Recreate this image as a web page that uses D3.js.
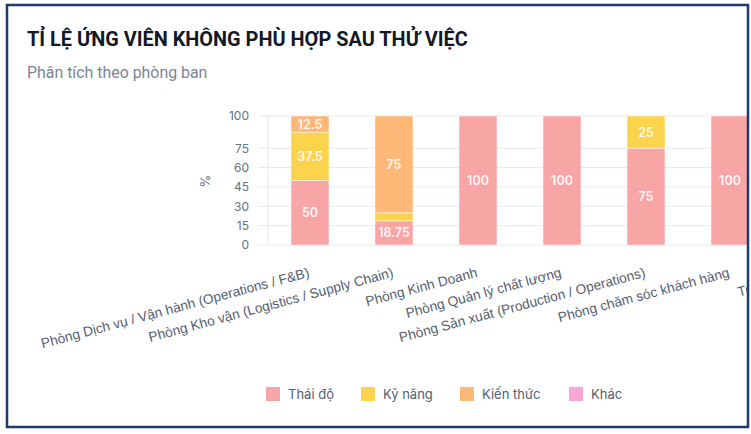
<!DOCTYPE html>
<html lang="vi">
  <head>
    <meta charset="UTF-8" />
    <title>Tỉ lệ ứng viên không phù hợp sau thử việc</title>
    <style>
      html, body { margin: 0; padding: 0; background: #fff; }
      svg { display: block; }
    </style>
  </head>
  <body>
    <svg id="chart"></svg>
    <script src="https://d3js.org/d3.v7.min.js"></script>
    <script>
      // departments (last one is cut off by the frame in the reference)
      const departments = [
        'Phòng Dịch vụ / Vận hành (Operations / F&B)',
        'Phòng Kho vận (Logistics / Supply Chain)',
        'Phòng Kinh Doanh',
        'Phòng Quản lý chất lượng',
        'Phòng Sản xuất (Production / Operations)',
        'Phòng chăm sóc khách hàng',
        'Trung tâm IT',
      ];
      const reasons = ['Thái độ', 'Kỹ năng', 'Kiến thức', 'Khác'];
      const thaiDo = [50, 18.75, 100, 100, 75, 100, 100];
      const kyNang = [37.5, 6.25, 0, 0, 25, 0, 0];
      const kienThuc = [12.5, 75, 0, 0, 0, 0, 0];
      const khac = [0, 0, 0, 0, 0, 0, 0];
      const yTicks = [0, 15, 30, 45, 60, 75, 100];
      const colors = ['#f8a5a6', '#fcd34d', '#fdb776', '#f9a8d4'];

      const width = 751;
      const height = 434;
      const svg = d3.select('#chart').attr('width', width).attr('height', height);

      // title + subtitle
      svg
        .append('text')
        .attr('x', 27)
        .attr('y', 46)
        .attr('font-family', 'Roboto, sans-serif')
        .attr('font-weight', 700)
        .attr('font-size', 19.9)
        .attr('fill', '#111827')
        .text('TỈ LỆ ỨNG VIÊN KHÔNG PHÙ HỢP SAU THỬ VIỆC');
      svg
        .append('text')
        .attr('x', 27)
        .attr('y', 78)
        .attr('font-family', 'Roboto, sans-serif')
        .attr('font-size', 15.9)
        .attr('fill', '#7c8594')
        .text('Phân tích theo phòng ban');

      // everything in the plot is clipped by the card border on the right
      svg
        .append('clipPath')
        .attr('id', 'card')
        .append('rect')
        .attr('x', 0)
        .attr('y', 0)
        .attr('width', 747)
        .attr('height', 426);
      const plot = svg.append('g').attr('clip-path', 'url(#card)');

      const x = d3
        .scaleBand()
        .domain(departments)
        .range([268, 268 + 84 * departments.length])
        .paddingInner(0.548)
        .paddingOuter(0.274);
      const y = d3.scaleLinear().domain([0, 100]).range([245, 116]);

      // grid
      plot
        .append('g')
        .selectAll('line')
        .data(yTicks)
        .join('line')
        .attr('x1', 258)
        .attr('x2', x.range()[1])
        .attr('y1', (d) => y(d))
        .attr('y2', (d) => y(d))
        .attr('stroke', '#e3e8f0')
        .attr('stroke-width', 1);
      plot
        .append('line')
        .attr('x1', 268)
        .attr('x2', 268)
        .attr('y1', y(100))
        .attr('y2', y(0))
        .attr('stroke', '#e3e8f0');

      // y axis labels
      const axisY = d3.axisLeft(y).tickValues(yTicks).tickSize(0).tickPadding(0);
      const gy = svg.append('g').attr('transform', 'translate(249,0)').call(axisY);
      gy.select('.domain').remove();
      gy.selectAll('text')
        .attr('font-family', 'Inter, sans-serif')
        .attr('font-size', 12)
        .attr('fill', '#667085');

      svg
        .append('text')
        .attr('transform', 'translate(210,181) rotate(-90)')
        .attr('text-anchor', 'middle')
        .attr('font-family', 'Inter, sans-serif')
        .attr('font-size', 13)
        .attr('fill', '#667085')
        .text('%');

      // stacked bars
      const rows = departments.map((d, i) => ({
        dept: d,
        'Thái độ': thaiDo[i],
        'Kỹ năng': kyNang[i],
        'Kiến thức': kienThuc[i],
        'Khác': khac[i],
      }));
      const series = d3.stack().keys(reasons)(rows);

      const layers = plot
        .append('g')
        .selectAll('g')
        .data(series)
        .join('g')
        .attr('fill', (d, i) => colors[i]);

      layers
        .selectAll('rect')
        .data((d) => d.filter((s) => s[1] - s[0] > 0))
        .join('rect')
        .attr('x', (d) => x(d.data.dept))
        .attr('width', x.bandwidth())
        .attr('y', (d) => y(d[1]))
        .attr('height', (d) => y(d[0]) - y(d[1]))
        .attr('stroke', '#fff')
        .attr('stroke-opacity', 0.6)
        .attr('stroke-width', 0.8);

      layers
        .selectAll('text')
        .data((d) => d.filter((s) => y(s[0]) - y(s[1]) > 14))
        .join('text')
        .attr('x', (d) => x(d.data.dept) + x.bandwidth() / 2)
        .attr('y', (d) => (y(d[0]) + y(d[1])) / 2)
        .attr('dy', '0.36em')
        .attr('text-anchor', 'middle')
        .attr('font-family', 'Inter, sans-serif')
        .attr('font-weight', 600)
        .attr('font-size', 12.5)
        .attr('fill', '#fff')
        .attr('fill-opacity', 0.92)
        .text((d) => d[1] - d[0]);

      // rotated department labels
      plot
        .append('g')
        .selectAll('text')
        .data(departments)
        .join('text')
        .attr(
          'transform',
          (d) => `translate(${x(d) + x.bandwidth() / 2 - 3},265) rotate(-15)`
        )
        .attr('y', 12)
        .attr('text-anchor', 'end')
        .attr('font-family', 'Liberation Sans, Arial, sans-serif')
        .attr('font-size', 13.7)
        .attr('fill', '#555e6e')
        .text((d) => d);

      // legend
      const legendX = [266, 361, 460, 569];
      const legend = svg
        .append('g')
        .selectAll('g')
        .data(reasons)
        .join('g')
        .attr('transform', (d, i) => `translate(${legendX[i]},387)`);
      legend
        .append('rect')
        .attr('width', 14)
        .attr('height', 14)
        .attr('fill', (d, i) => colors[i]);
      legend
        .append('text')
        .attr('x', 22)
        .attr('y', 7)
        .attr('dy', '0.36em')
        .attr('font-family', 'Inter, sans-serif')
        .attr('font-size', 13)
        .attr('fill', '#555e6e')
        .text((d) => d);

      // card border
      svg
        .append('rect')
        .attr('x', 7)
        .attr('y', 5)
        .attr('width', 741)
        .attr('height', 422)
        .attr('fill', 'none')
        .attr('stroke', '#1e3a6e')
        .attr('stroke-width', 2.5);
    </script>
  </body>
</html>
